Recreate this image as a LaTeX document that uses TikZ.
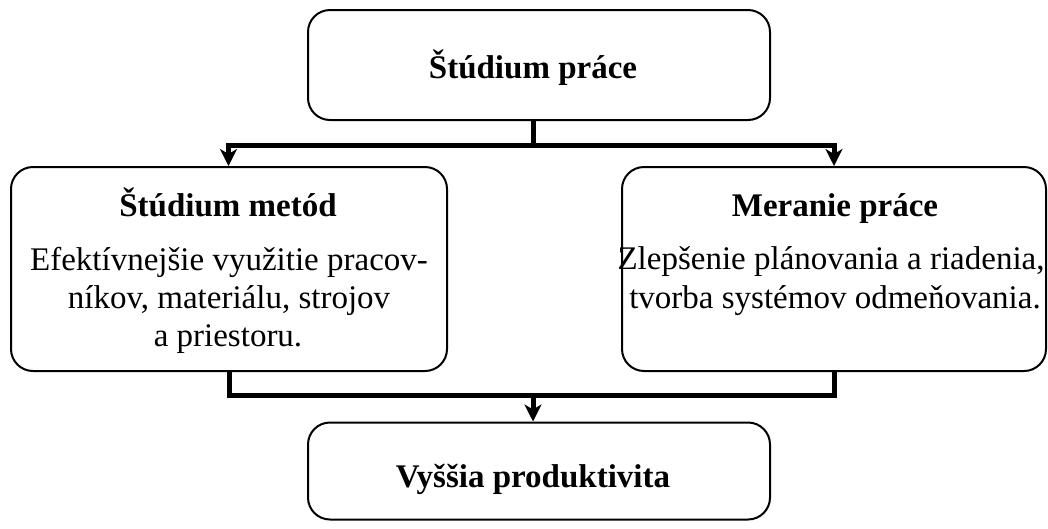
\documentclass[tikz,border=0pt]{standalone}
\usepackage{fontspec}
\setmainfont{Liberation Serif}
\usetikzlibrary{arrows.meta}
\begin{document}
\begin{tikzpicture}[x=1pt,y=-1pt,
  box/.style={draw,line width=2pt,rounded corners=22pt,minimum width=#1,inner sep=0pt},
  conn/.style={line width=5pt},
  arr/.style={line width=5pt,-{Stealth[length=17pt,width=17pt,inset=5pt]}},
  title/.style={font=\fontsize{33}{40}\selectfont\bfseries,inner sep=0pt,anchor=base},
  body/.style={font=\fontsize{33}{40}\selectfont,inner sep=0pt,anchor=base}]
\useasboundingbox (0,0) rectangle (1048,528);
\node[box=462pt,minimum height=110pt] (top) at (539,65) {};
\node[box=436pt,minimum height=204pt] (left) at (229,269) {};
\node[box=424pt,minimum height=204pt] (right) at (834,269) {};
\node[box=462pt,minimum height=97pt] (bot) at (539,471) {};
\node[title] (t1) at (533,78) {Štúdium práce};
\node[title] (t2) at (228,216) {Štúdium metód};
\node[body] (l1) at (229,270) {Efektívnejšie využitie pracov-};
\node[body] (l2) at (229,308) {níkov, materiálu, strojov};
\node[body] (l3) at (228,346) {a priestoru.};
\node[title] (t3) at (835,216) {Meranie práce};
\node[body] (r1) at (831,269) {Zlepšenie plánovania a riadenia,};
\node[body] (r2) at (835,308) {tvorba systémov odmeňovania.};
\node[title] (t4) at (533,487) {Vyššia produktivita};
\coordinate (s1) at (533,145);
\coordinate (s2) at (533,395);
\draw[conn] (top.south -| s1) -- ([yshift=2.5pt]s1);
\draw[arr] ([xshift=1pt]s1) -| ([xshift=-0.5pt]left.north);
\draw[arr] ([xshift=-1pt]s1) -| (right.north);
\draw[conn] (left.south) |- ([xshift=1pt]s2);
\draw[conn] (right.south) |- ([xshift=-1pt]s2);
\draw[arr] ([yshift=-2.5pt]s2) -- (s2 |- bot.north);
\end{tikzpicture}
\end{document}
